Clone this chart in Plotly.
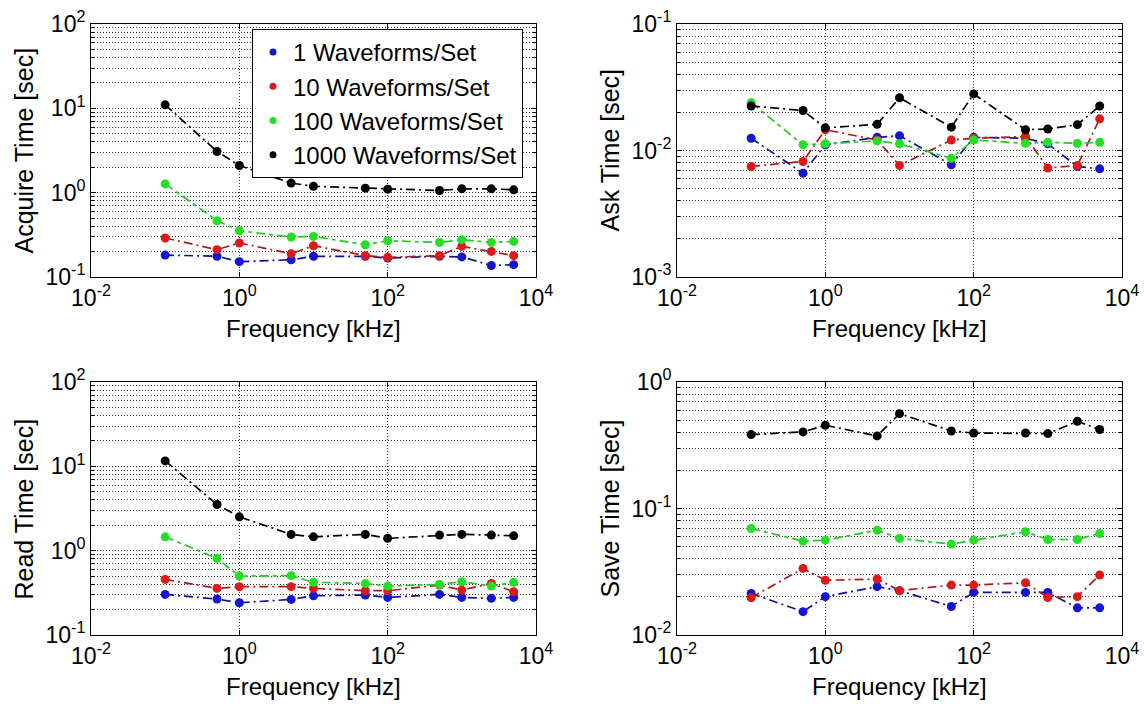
import plotly.graph_objects as go

# ---------------- data ----------------
freq_khz = [0.1, 0.5, 1, 5, 10, 50, 100, 500, 1000, 2500, 5000]
series_names = ["1 Waveforms/Set", "10 Waveforms/Set", "100 Waveforms/Set", "1000 Waveforms/Set"]

acquire_1 = [0.182, 0.176, 0.152, 0.160, 0.176, 0.176, 0.168, 0.176, 0.173, 0.137, 0.140]
acquire_10 = [0.290, 0.211, 0.253, 0.189, 0.235, 0.179, 0.171, 0.179, 0.231, 0.201, 0.179]
acquire_100 = [1.27, 0.465, 0.354, 0.298, 0.303, 0.241, 0.269, 0.257, 0.277, 0.257, 0.264]
acquire_1000 = [11.0, 3.08, 2.10, 1.30, 1.19, 1.13, 1.10, 1.06, 1.11, 1.11, 1.08]

ask_1 = [0.0125, 0.00662, 0.0111, 0.0127, 0.0131, 0.00771, 0.0127, 0.0125, 0.0113, 0.00748, 0.00716]
ask_10 = [0.00748, 0.00819, 0.0146, 0.0121, 0.00762, 0.0121, 0.0125, 0.0129, 0.00726, 0.00762, 0.0178]
ask_100 = [0.0239, 0.0111, 0.0113, 0.0119, 0.0113, 0.00869, 0.0121, 0.0114, 0.0116, 0.0114, 0.0116]
ask_1000 = [0.0225, 0.0207, 0.0151, 0.0161, 0.0261, 0.0153, 0.0280, 0.0146, 0.0148, 0.0160, 0.0225]

read_1 = [0.303, 0.267, 0.241, 0.264, 0.292, 0.298, 0.279, 0.303, 0.279, 0.272, 0.279]
read_10 = [0.456, 0.357, 0.374, 0.374, 0.357, 0.335, 0.335, 0.391, 0.341, 0.409, 0.326]
read_100 = [1.46, 0.81, 0.500, 0.505, 0.421, 0.409, 0.380, 0.398, 0.428, 0.380, 0.421]
read_1000 = [11.6, 3.53, 2.52, 1.56, 1.46, 1.56, 1.40, 1.53, 1.56, 1.53, 1.50]

save_1 = [0.0213, 0.0153, 0.0201, 0.0241, 0.0224, 0.0168, 0.0217, 0.0217, 0.0217, 0.0164, 0.0164]
save_10 = [0.0197, 0.0336, 0.0271, 0.0277, 0.0224, 0.0248, 0.0248, 0.0259, 0.0198, 0.0201, 0.0298]
save_100 = [0.0695, 0.0552, 0.0562, 0.0674, 0.0580, 0.0523, 0.0562, 0.0655, 0.0569, 0.0569, 0.0635]
save_1000 = [0.384, 0.403, 0.455, 0.375, 0.562, 0.410, 0.395, 0.395, 0.391, 0.489, 0.421]

x_tick_vals = [0.01, 1, 100, 10000]
x_tick_text = ["10<sup>-2</sup>", "10<sup>0</sup>", "10<sup>2</sup>", "10<sup>4</sup>"]

panel_titles = ["Acquire Time [sec]", "Ask Time [sec]", "Read Time [sec]", "Save Time [sec]"]
panel_yticks = [
    ([0.1, 1, 10, 100], ["10<sup>-1</sup>", "10<sup>0</sup>", "10<sup>1</sup>", "10<sup>2</sup>"]),
    ([0.001, 0.01, 0.1], ["10<sup>-3</sup>", "10<sup>-2</sup>", "10<sup>-1</sup>"]),
    ([0.1, 1, 10, 100], ["10<sup>-1</sup>", "10<sup>0</sup>", "10<sup>1</sup>", "10<sup>2</sup>"]),
    ([0.01, 0.1, 1], ["10<sup>-2</sup>", "10<sup>-1</sup>", "10<sup>0</sup>"]),
]
panel_yrange = [[-1, 2], [-3, -1], [-1, 2], [-2, 0]]
panel_data = [
    [acquire_1, acquire_10, acquire_100, acquire_1000],
    [ask_1, ask_10, ask_100, ask_1000],
    [read_1, read_10, read_100, read_1000],
    [save_1, save_10, save_100, save_1000],
]

# ---------------- style ----------------
colors = ["#1414d2", "#e01818", "#22e022", "#000000"]
line_colors = ["#10109a", "#b01818", "#22cc22", "#000000"]
FONT = "Liberation Sans, Arial, sans-serif"
W, H = 1144, 704
col_x = [(91, 536), (677, 1122)]
row_y = [(24, 277), (382, 635)]

fig = go.Figure()

axis_ids = ["", "2", "3", "4"]
for p in range(4):
    r, c = divmod(p, 2)
    xa = "x" + axis_ids[p]
    ya = "y" + axis_ids[p]
    for s in range(4):
        fig.add_trace(go.Scatter(
            x=freq_khz, y=panel_data[p][s], mode="lines+markers",
            line=dict(color=line_colors[s], width=1.7,
                      dash="9px,4px,2px,4px" if s != 2 else "9px,4px,4px,4px"),
            marker=dict(color=colors[s], size=9),
            xaxis=xa, yaxis=ya, showlegend=False, hoverinfo="x+y",
            name=series_names[s],
        ))
    x0, x1 = col_x[c]
    y0, y1 = row_y[r]
    common = dict(
        type="log", showline=True, linecolor="black", linewidth=1, mirror="ticks",
        ticks="inside", ticklen=5, tickcolor="black", automargin=False,
        showgrid=True, gridcolor="#333333", gridwidth=1, griddash="1px,2px",
        zeroline=False, tickfont=dict(family=FONT, size=23, color="black"),
    )
    fig.layout["xaxis" + axis_ids[p]] = dict(
        common, domain=[x0 / W, x1 / W], anchor=ya, range=[-2, 4],
        tickmode="array", tickvals=x_tick_vals, ticktext=x_tick_text,
    )
    tv, tt = panel_yticks[p]
    fig.layout["yaxis" + axis_ids[p]] = dict(
        common, domain=[1 - y1 / H, 1 - y0 / H], anchor=xa, range=panel_yrange[p],
        tickmode="array", tickvals=tv, ticktext=tt,
        minor=dict(dtick="D1", ticks="inside", ticklen=3, tickcolor="black",
                   showgrid=True, gridcolor="#333333", gridwidth=1, griddash="1px,2px"),
    )
    # axis titles
    fig.add_annotation(text="Frequency [kHz]", xref=xa + " domain", yref=ya + " domain",
                       x=0.5, y=-51 / (y1 - y0), xanchor="center", yanchor="middle",
                       showarrow=False, font=dict(family=FONT, size=24, color="black"))
    fig.add_annotation(text=panel_titles[p], xref=xa + " domain", yref=ya + " domain",
                       x=-68 / (x1 - x0), y=0.5, xanchor="center", yanchor="middle",
                       textangle=-90, showarrow=False,
                       font=dict(family=FONT, size=25, color="black"))

# legend entries (marker-only, as in the original legend)
for s in range(4):
    fig.add_trace(go.Scatter(x=[None], y=[None], mode="markers",
                             marker=dict(color=colors[s], size=7),
                             name=series_names[s], showlegend=True,
                             xaxis="x", yaxis="y"))

fig.update_layout(
    template="none",
    width=W, height=H,
    margin=dict(l=0, r=0, t=0, b=0, autoexpand=False),
    paper_bgcolor="white", plot_bgcolor="white",
    font=dict(family=FONT, color="black"),
    showlegend=True,
    hovermode=False,
    legend=dict(
        x=252 / W, y=1 - 29 / H, xanchor="left", yanchor="top",
        bgcolor="white", bordercolor="black", borderwidth=1,
        font=dict(family=FONT, size=24, color="black"),
        itemwidth=30, tracegroupgap=0,
    ),
)

fig.write_html("out.html",
               config={"displayModeBar": False},
               post_script="document.body.style.margin='0px';document.body.style.overflow='hidden';")
